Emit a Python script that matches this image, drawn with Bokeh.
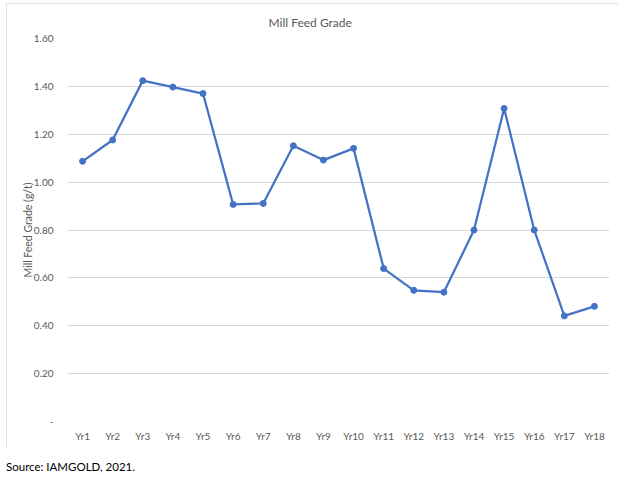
from bokeh.plotting import figure
from bokeh.layouts import column
from bokeh.models import (FactorRange, Range1d, FixedTicker, NumeralTickFormatter, Div)
from bokeh.embed import file_html
from bokeh.resources import INLINE

years = ["Yr1", "Yr2", "Yr3", "Yr4", "Yr5", "Yr6", "Yr7", "Yr8", "Yr9", "Yr10",
         "Yr11", "Yr12", "Yr13", "Yr14", "Yr15", "Yr16", "Yr17", "Yr18"]
grade = [1.087, 1.176, 1.424, 1.397, 1.370, 0.907, 0.911, 1.152, 1.092, 1.141,
         0.639, 0.548, 0.540, 0.800, 1.308, 0.800, 0.441, 0.481]
y_ticks = [0.0, 0.2, 0.4, 0.6, 0.8, 1.0, 1.2, 1.4, 1.6]

title_text = "Mill Feed Grade"
y_label = "Mill Feed Grade (g/t)"
source_text = "Source: IAMGOLD, 2021."

FONT = "Lato"
W, H = 612, 444
FL, FR, FT, FB = 61, 603, 35, 418  # frame edges inside the chart box

p = figure(width=W, height=H, output_backend="svg", toolbar_location=None,
           x_range=FactorRange(*years, range_padding=0),
           y_range=Range1d(0, 1.6),
           min_border_left=FL, min_border_right=W - FR, min_border_top=FT,
           min_border_bottom=H - FB)
p.margin = (3, 0, 0, 6)
p.styles = {"outline": "1px solid #d9d9d9", "outline-offset": "-1px"}
p.outline_line_color = None
p.background_fill_color = "white"
p.border_fill_color = "white"

p.title.text = title_text
p.title.align = "left"
p.title.offset = 201
p.title.standoff = 17
p.title.text_font = FONT
p.title.text_font_size = "12px"
p.title.text_font_style = "normal"
p.title.text_color = "#595959"

p.line(years, grade, line_color="#4472C4", line_width=2.25)
p.scatter(years, grade, size=6, fill_color="#4472C4", line_color="#4472C4")

# y axis
p.yaxis.ticker = FixedTicker(ticks=y_ticks)
p.yaxis.formatter = NumeralTickFormatter(format="0.00")
p.yaxis.major_label_overrides = {0: "-"}
p.yaxis.axis_line_color = None
p.yaxis.major_tick_line_color = None
p.yaxis.minor_tick_line_color = None
p.yaxis.major_label_standoff = 8
p.yaxis.major_label_text_font = FONT
p.yaxis.major_label_text_font_size = "10px"
p.yaxis.major_label_text_color = "#595959"
p.yaxis.axis_label = y_label
p.yaxis.axis_label_standoff = -3
p.yaxis.axis_label_text_font = FONT
p.yaxis.axis_label_text_font_size = "10.5px"
p.yaxis.axis_label_text_font_style = "normal"
p.yaxis.axis_label_text_color = "#595959"

# x axis
p.xaxis.axis_line_color = None
p.xaxis.major_tick_line_color = None
p.xaxis.minor_tick_line_color = None
p.xaxis.major_label_standoff = 2
p.xaxis.major_label_text_font = FONT
p.xaxis.major_label_text_font_size = "10px"
p.xaxis.major_label_text_color = "#595959"

p.xgrid.grid_line_color = None
p.ygrid.grid_line_color = "#d9d9d9"
p.ygrid.grid_line_width = 1

src = Div(text=source_text, width=300, height=16, margin=(12, 0, 0, 6),
          styles={"font-family": FONT, "font-size": "11.5px", "color": "#000000",
                  "line-height": "16px"})

layout = column(p, src)
open("out.html", "w").write(file_html(layout, INLINE))
